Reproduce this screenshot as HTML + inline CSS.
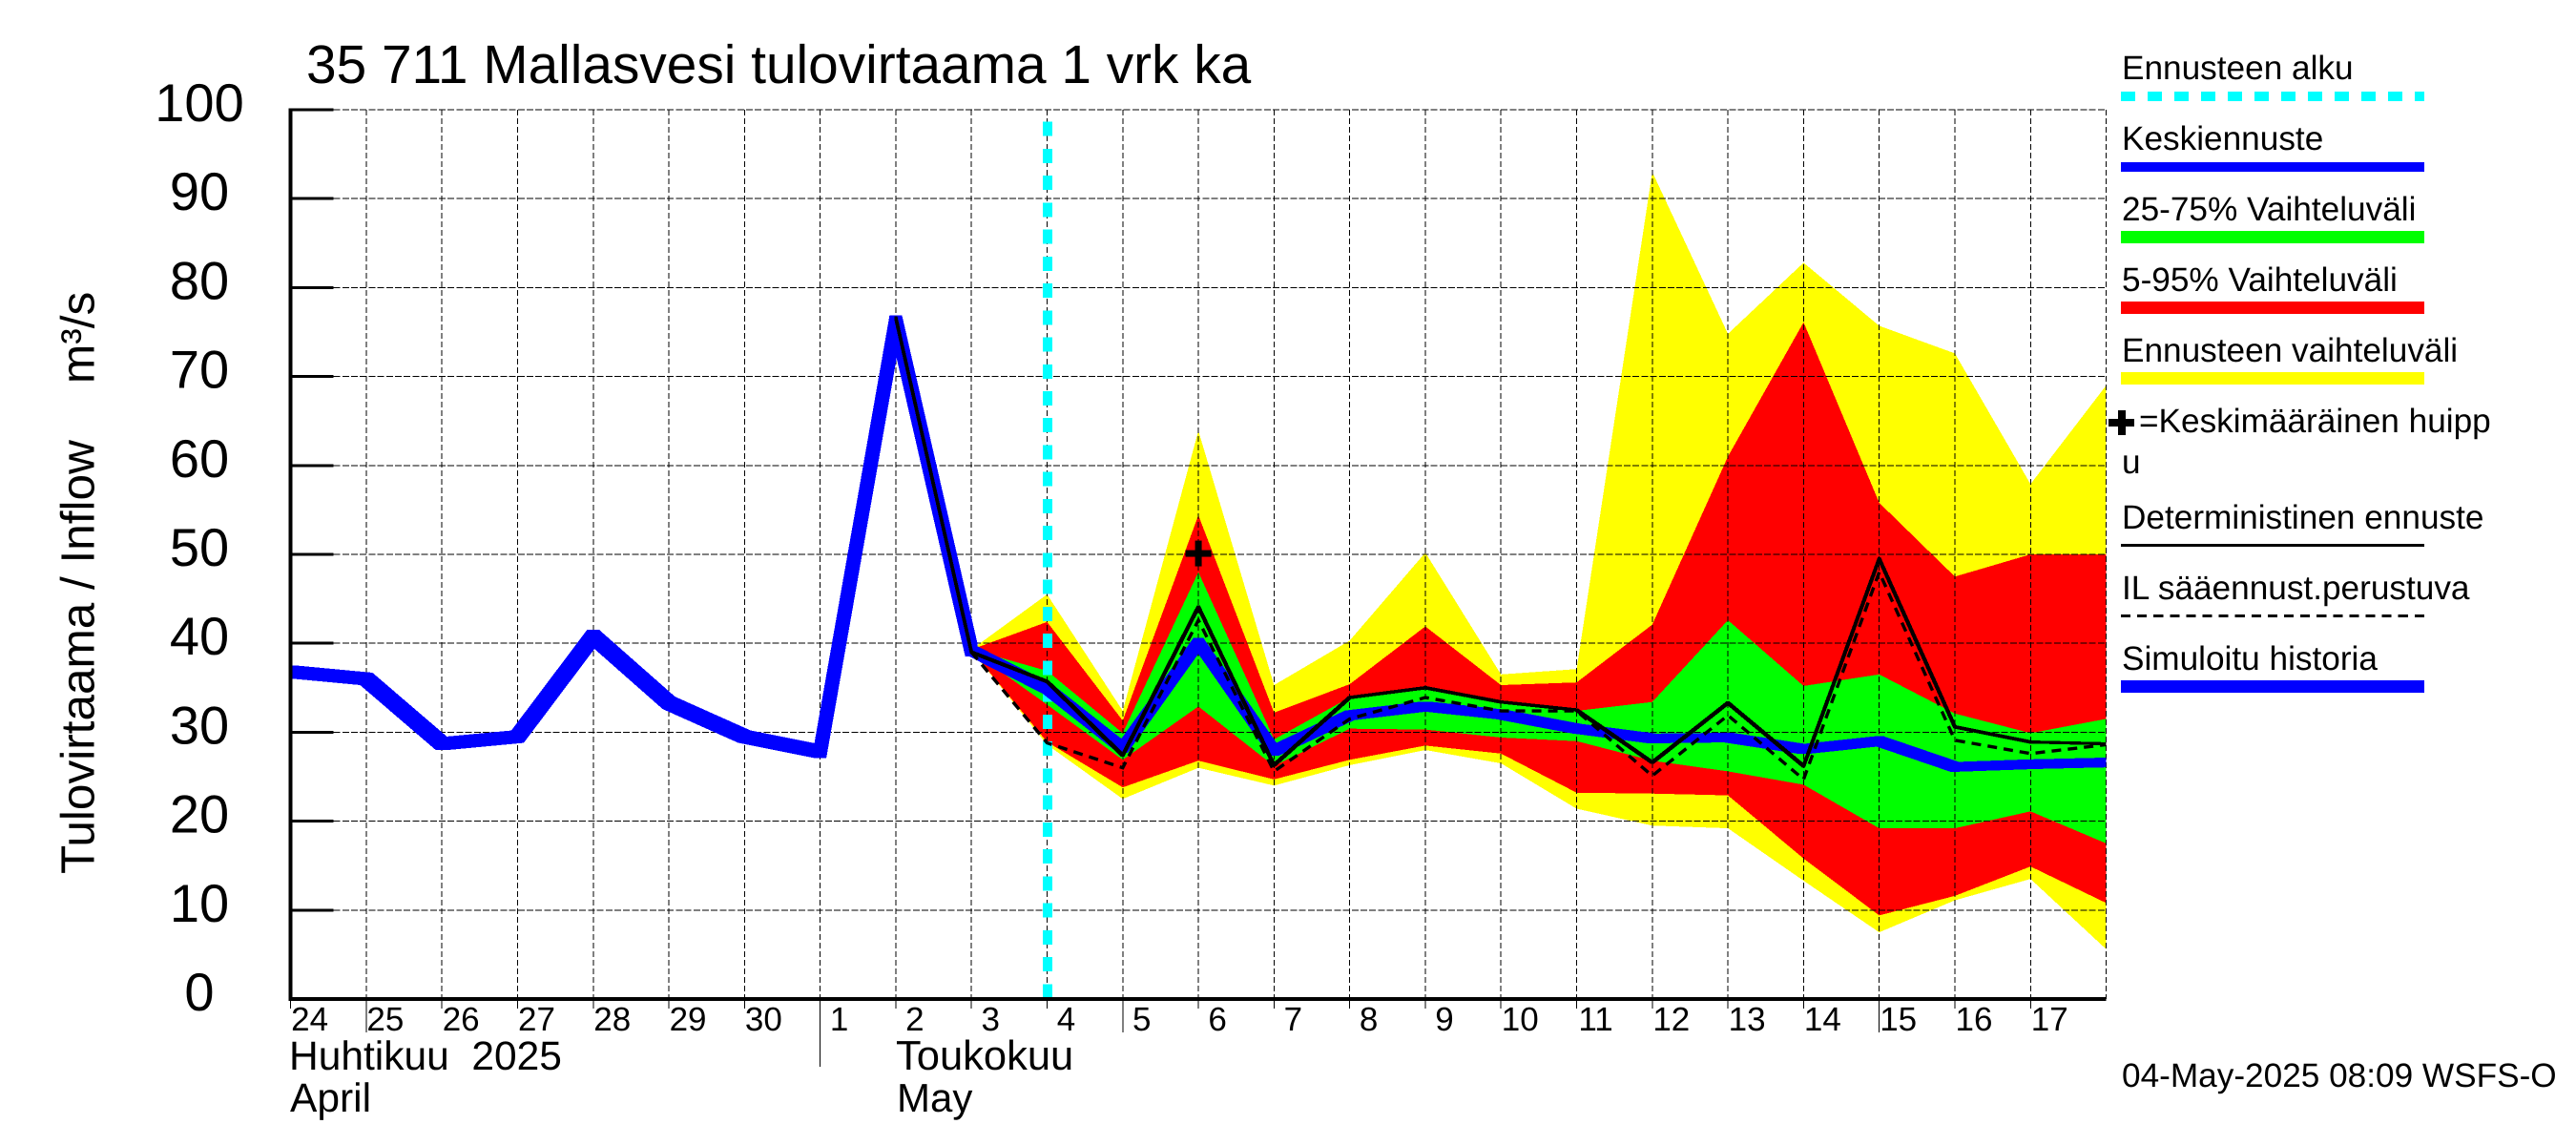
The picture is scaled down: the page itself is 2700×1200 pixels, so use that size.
<!DOCTYPE html>
<html lang="fi">
<head>
<meta charset="utf-8">
<title>35 711 Mallasvesi tulovirtaama 1 vrk ka</title>
<style>
html,body{margin:0;padding:0;background:#fff;}
svg{display:block;}
text{font-family:"Liberation Sans",sans-serif;fill:#000;text-rendering:geometricPrecision;}
.lg{font-size:35.2px;}
</style>
</head>
<body>
<svg id="chart" xmlns="http://www.w3.org/2000/svg" width="2700" height="1200" viewBox="0 0 2700 1200">
  <defs>
    <clipPath id="plot-clip"><rect x="305" y="100" width="1902.5" height="960"/></clipPath>
  </defs>
  <rect x="0" y="0" width="2700" height="1200" fill="#fff"/>
  <text x="321" y="87" font-size="56.8">35 711 Mallasvesi tulovirtaama 1 vrk ka</text>
  <text transform="translate(98.5,916) rotate(-90)" font-size="49.5">Tulovirtaama / Inflow</text>
  <text transform="translate(98.5,402) rotate(-90)" font-size="49.5">m³/s</text>
  <g id="plot"></g>
  <text x="303" y="1121" font-size="42.5" xml:space="preserve">Huhtikuu  2025</text>
  <text x="304" y="1165" font-size="42.5">April</text>
  <text x="939" y="1121" font-size="43.5">Toukokuu</text>
  <text x="940" y="1165" font-size="42">May</text>
  <text x="2224" y="1139" font-size="35.2">04-May-2025 08:09 WSFS-O</text>

  <g>
    <text class="lg" x="2224" y="83">Ennusteen alku</text>
    <line x1="2223" y1="101" x2="2541" y2="101" stroke="#00ffff" stroke-width="10" stroke-dasharray="15 13" shape-rendering="crispEdges"/>
    <text class="lg" x="2224" y="157">Keskiennuste</text>
    <rect x="2223" y="170" width="318" height="10" fill="#0000ff"/>
    <text class="lg" x="2224" y="231">25-75% Vaihteluväli</text>
    <rect x="2223" y="242" width="318" height="13" fill="#00ff00"/>
    <text class="lg" x="2224" y="305">5-95% Vaihteluväli</text>
    <rect x="2223" y="316" width="318" height="13" fill="#ff0000"/>
    <text class="lg" x="2224" y="379">Ennusteen vaihteluväli</text>
    <rect x="2223" y="390" width="318" height="13" fill="#ffff00"/>
    <rect x="2210" y="439" width="27" height="8" fill="#000"/>
    <rect x="2220" y="430" width="8" height="26" fill="#000"/>
    <text class="lg" x="2242" y="453">=Keskimääräinen huipp</text>
    <text class="lg" x="2224" y="496">u</text>
    <text class="lg" x="2224" y="554">Deterministinen ennuste</text>
    <rect x="2223" y="570" width="318" height="3" fill="#000"/>
    <text class="lg" x="2224" y="628">IL sääennust.perustuva</text>
    <line x1="2223" y1="645.5" x2="2541" y2="645.5" stroke="#000" stroke-width="3" stroke-dasharray="10.1 7" shape-rendering="crispEdges"/>
    <text class="lg" x="2224" y="702">Simuloitu historia</text>
    <rect x="2223" y="713" width="318" height="13" fill="#0000ff"/>
  </g>
</svg>
<script>
// Categories and tick labels
const dayLabels = ['24','25','26','27','28','29','30','1','2','3','4','5','6','7','8','9','10','11','12','13','14','15','16','17'];
const yTickValues = [0,10,20,30,40,50,60,70,80,90,100];
const longTickDays = ['25','5','15'];
const monthBoundaryDay = 7;
const forecastStartDay = 10;
const lastDayIndex = 24;

// Series values (m3/s)
const historyValues = [36.8,36,28.7,29.5,40.8,33.3,29.5,27.8,76.2,39.2];
const bandStartDay = 9;
const yellowTop = [39.3,45.5,32.4,63.9,35.3,40.3,50.2,36.5,37.1,93,74.8,82.8,75.7,72.6,57.9,69];
const redTop = [39.3,42.4,31.3,54.4,32.2,35.4,41.9,35.3,35.6,42.1,61,76.1,55.8,47.5,50,50];
const greenTop = [39.3,36.9,29.9,48,29.2,33.9,34.9,33.5,32.4,33.4,42.6,35.2,36.5,32.1,29.9,31.5];
const greenBottom = [39.2,33.1,26.9,32.9,26.2,30.4,30.3,29.4,29,26.8,25.6,24.1,19.2,19.2,21.1,17.5];
const redBottom = [39.2,28.9,23.8,26.8,24.7,26.9,28.5,27.6,23.2,23.1,22.9,15.8,9.4,11.6,14.9,10.8];
const yellowBottom = [39.2,28.6,22.5,26,24,26.3,28,26.5,21.4,19.5,19.2,13.3,7.5,11.1,13.5,5.6];
const meanForecast = [39.2,34.9,28.2,40.1,27.9,31.9,32.9,32,30.4,29.3,29.4,28.1,29,26.1,26.4,26.6];
const deterministicStartDay = 8;
const deterministic = [76.6,39,35.7,27.4,44.1,26.3,33.9,35,33.4,32.5,26.6,33.3,26.2,49.5,30.6,28.9,28.7];
const ilStartDay = 9;
const ilForecast = [39,28.8,26,42.6,25.6,31.5,33.9,32.4,32.4,25.1,31.9,24.7,48,29.1,27.6,28.6];
const peakDay = 12;
const peakValue = 50.1;

// Axis functions
const X0 = 304.6, DX = 79.29, Y0 = 1047, DY = 9.32;
const xAt = d => X0 + DX * d;
const yAt = v => Y0 - DY * v;

const NS = 'http://www.w3.org/2000/svg';
const plot = document.getElementById('plot');
function mk(tag, props, txt){
  const e = document.createElementNS(NS, tag);
  for (const k in props) e.setAttribute(k, props[k]);
  if (txt !== undefined) e.textContent = txt;
  plot.appendChild(e);
  return e;
}
function pts(start, vals){
  return vals.map((v,i) => xAt(start+i).toFixed(2)+','+yAt(v).toFixed(2));
}
function band(top, bottom, fill){
  const p = pts(bandStartDay, top).concat(pts(bandStartDay, bottom).reverse()).join(' ');
  return mk('polygon', {points:p, fill:fill, 'shape-rendering':'crispEdges'});
}
// A line swept by a square pen: one clockwise hexagon per segment (left to right).
function penPath(start, vals, h){
  let d = '';
  for (let i = 0; i + 1 < vals.length; i++){
    const x1 = xAt(start+i), y1 = yAt(vals[i]), x2 = xAt(start+i+1), y2 = yAt(vals[i+1]);
    const c = y2 < y1
      ? [[x1-h,y1-h],[x2-h,y2-h],[x2+h,y2-h],[x2+h,y2+h],[x1+h,y1+h],[x1-h,y1+h]]
      : [[x1-h,y1-h],[x1+h,y1-h],[x2+h,y2-h],[x2+h,y2+h],[x2-h,y2+h],[x1-h,y1+h]];
    d += 'M' + c.map(p => p[0].toFixed(2)+' '+p[1].toFixed(2)).join('L') + 'Z';
  }
  return d;
}

// Bands
const bandYellow = band(yellowTop, yellowBottom, '#ffff00');


const bandRed = band(redTop, redBottom, '#ff0000');


const bandGreen = band(greenTop, greenBottom, '#00ff00');



// Grid
yTickValues.forEach(v => {
  if (v === 0) return;
  const g = mk('line', {x1:X0+45, x2:xAt(lastDayIndex), y1:yAt(v), y2:yAt(v), stroke:'#000', 'stroke-width':1, 'stroke-dasharray':'7 2.2', 'shape-rendering':'crispEdges'});
  
  
});
for (let d = 1; d <= lastDayIndex; d++){
  const g = mk('line', {x1:xAt(d), x2:xAt(d), y1:yAt(100), y2:Y0, stroke:'#000', 'stroke-width':1, 'stroke-dasharray':'6 3', 'shape-rendering':'crispEdges'});
  
  
}

// Forecast start marker
const startLine = mk('line', {x1:xAt(forecastStartDay)+0.3, x2:xAt(forecastStartDay)+0.3, y1:127.6, y2:Y0, stroke:'#00ffff', 'stroke-width':10, 'stroke-dasharray':'15 13.24', 'shape-rendering':'crispEdges'});



// Series lines
const meanLine = mk('path', {d:penPath(bandStartDay, meanForecast, 5), fill:'#0000ff', 'shape-rendering':'crispEdges', 'clip-path':'url(#plot-clip)'});


const histLine = mk('path', {d:penPath(0, historyValues, 6.5), fill:'#0000ff', 'shape-rendering':'crispEdges', 'clip-path':'url(#plot-clip)'});


const ilLine = mk('polyline', {points:pts(ilStartDay, ilForecast).join(' '), fill:'none', stroke:'#000', 'stroke-width':3.4, 'stroke-dasharray':'10 7', 'stroke-linejoin':'miter', 'clip-path':'url(#plot-clip)'});


const detLine = mk('path', {d:penPath(deterministicStartDay, deterministic, 1.6), fill:'#000', 'shape-rendering':'crispEdges', 'clip-path':'url(#plot-clip)'});



// Peak marker
const plusH = mk('rect', {x:xAt(peakDay)-13.5, y:yAt(peakValue)-3.5, width:27, height:7, fill:'#000'});


const plusV = mk('rect', {x:xAt(peakDay)-3.5, y:yAt(peakValue)-13.5, width:7, height:27, fill:'#000'});



// Axes
const axisY = mk('line', {x1:X0, x2:X0, y1:yAt(100)-1.5, y2:Y0+2, stroke:'#000', 'stroke-width':4, 'shape-rendering':'crispEdges'});


const axisX = mk('line', {x1:X0-2, x2:xAt(lastDayIndex), y1:Y0, y2:Y0, stroke:'#000', 'stroke-width':4, 'shape-rendering':'crispEdges'});



yTickValues.forEach(v => {
  if (v !== 0){
    const t = mk('line', {x1:X0, x2:X0+45, y1:yAt(v), y2:yAt(v), stroke:'#000', 'stroke-width':3, 'shape-rendering':'crispEdges'});
    
    
  }
  const l = mk('text', {x:209, y:yAt(v)+12, 'font-size':56, 'text-anchor':'middle'}, String(v));
  
  
});

dayLabels.forEach((lab, d) => {
  const isLong = longTickDays.includes(lab);
  const bottom = d === monthBoundaryDay ? 1118 : (isLong ? 1082 : 1057);
  const t = mk('line', {x1:xAt(d), x2:xAt(d), y1:Y0, y2:bottom, stroke:'#000', 'stroke-width':1, 'shape-rendering':'crispEdges'});
  
  
  const l = mk('text', {x:xAt(d)+20, y:1080, 'font-size':35, 'text-anchor':'middle'}, lab);
  
  
});
</script>
</body>
</html>
